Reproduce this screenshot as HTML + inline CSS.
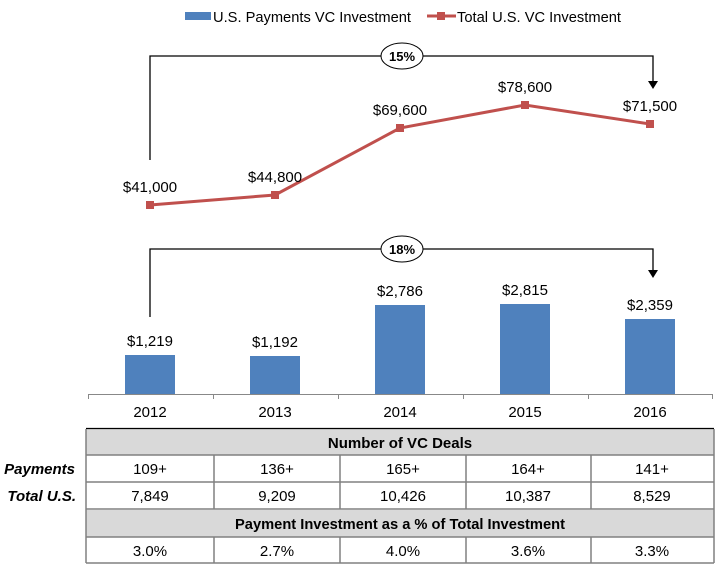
<!DOCTYPE html>
<html><head><meta charset="utf-8"><style>
body{margin:0;background:#fff}
svg{display:block;font-family:"Liberation Sans",Arial,sans-serif}
</style></head><body>
<svg width="720" height="569" viewBox="0 0 720 569" xmlns="http://www.w3.org/2000/svg">
<!-- legend -->
<rect x="185" y="12" width="26" height="8" fill="#4f81bd"/>
<text x="213" y="22" font-size="15" fill="#000" textLength="198" lengthAdjust="spacingAndGlyphs">U.S. Payments VC Investment</text>
<line x1="427" y1="16" x2="456" y2="16" stroke="#c0504d" stroke-width="3"/>
<rect x="437" y="12" width="8" height="8" fill="#c0504d"/>
<text x="457" y="22" font-size="15" fill="#000" textLength="164" lengthAdjust="spacingAndGlyphs">Total U.S. VC Investment</text>
<!-- bracket 15% -->
<polyline points="150,160 150,56 653,56 653,82" fill="none" stroke="#000" stroke-width="1.3"/>
<polygon points="648,81 658,81 653,89" fill="#000"/>
<ellipse cx="402" cy="56" rx="21" ry="13" fill="#fff" stroke="#000" stroke-width="1"/>
<text x="402" y="61" font-size="13" font-weight="bold" text-anchor="middle">15%</text>
<!-- line -->
<polyline points="150,205 275,195 400,128 525,105 650,124" fill="none" stroke="#c0504d" stroke-width="3"/>
<g fill="#c0504d">
<rect x="146" y="201" width="8" height="8"/><rect x="271" y="191" width="8" height="8"/>
<rect x="396" y="124" width="8" height="8"/><rect x="521" y="101" width="8" height="8"/>
<rect x="646" y="120" width="8" height="8"/></g>
<g font-size="15" text-anchor="middle">
<text x="150" y="192">$41,000</text><text x="275" y="182">$44,800</text>
<text x="400" y="115">$69,600</text><text x="525" y="92">$78,600</text>
<text x="650" y="111">$71,500</text></g>
<!-- bracket 18% -->
<polyline points="150,317 150,249 653,249 653,271" fill="none" stroke="#000" stroke-width="1.3"/>
<polygon points="648,270 658,270 653,278" fill="#000"/>
<ellipse cx="402" cy="249" rx="21" ry="13" fill="#fff" stroke="#000" stroke-width="1"/>
<text x="402" y="254" font-size="13" font-weight="bold" text-anchor="middle">18%</text>
<!-- bars -->
<g fill="#4f81bd">
<rect x="125" y="355" width="50" height="39"/><rect x="250" y="356" width="50" height="38"/>
<rect x="375" y="305" width="50" height="89"/><rect x="500" y="304" width="50" height="90"/>
<rect x="625" y="319" width="50" height="75"/></g>
<g font-size="15" text-anchor="middle">
<text x="150" y="346">$1,219</text><text x="275" y="347">$1,192</text>
<text x="400" y="296">$2,786</text><text x="525" y="295">$2,815</text>
<text x="650" y="310">$2,359</text></g>
<!-- axis -->
<g stroke="#888" stroke-width="1">
<line x1="88" y1="394.5" x2="713" y2="394.5"/>
<line x1="88.5" y1="394" x2="88.5" y2="399"/><line x1="213.5" y1="394" x2="213.5" y2="399"/>
<line x1="338.5" y1="394" x2="338.5" y2="399"/><line x1="463.5" y1="394" x2="463.5" y2="399"/>
<line x1="588.5" y1="394" x2="588.5" y2="399"/><line x1="712.5" y1="394" x2="712.5" y2="399"/></g>
<g font-size="15" text-anchor="middle">
<text x="150" y="417">2012</text><text x="275" y="417">2013</text><text x="400" y="417">2014</text>
<text x="525" y="417">2015</text><text x="650" y="417">2016</text></g>
<!-- table -->
<rect x="86" y="429" width="628" height="26" fill="#d9d9d9"/>
<rect x="86" y="510" width="628" height="27" fill="#d9d9d9"/>
<line x1="86" y1="428.5" x2="714" y2="428.5" stroke="#000" stroke-width="1.2"/>
<g stroke="#808080" stroke-width="1.5" fill="none">
<line x1="86" y1="455" x2="714" y2="455"/><line x1="86" y1="482" x2="714" y2="482"/>
<line x1="86" y1="509" x2="714" y2="509"/><line x1="86" y1="537" x2="714" y2="537"/>
<line x1="86" y1="563" x2="714" y2="563"/>
<line x1="86" y1="429" x2="86" y2="563"/><line x1="714" y1="429" x2="714" y2="563"/>
<line x1="214" y1="455" x2="214" y2="509"/><line x1="340" y1="455" x2="340" y2="509"/>
<line x1="466" y1="455" x2="466" y2="509"/><line x1="591" y1="455" x2="591" y2="509"/>
<line x1="214" y1="537" x2="214" y2="563"/><line x1="340" y1="537" x2="340" y2="563"/>
<line x1="466" y1="537" x2="466" y2="563"/><line x1="591" y1="537" x2="591" y2="563"/>
</g>
<g font-size="15" text-anchor="middle">
<text x="400" y="448" font-weight="bold">Number of VC Deals</text>
<text x="150" y="474">109+</text><text x="277" y="474">136+</text><text x="403" y="474">165+</text>
<text x="528" y="474">164+</text><text x="652" y="474">141+</text>
<text x="150" y="501">7,849</text><text x="277" y="501">9,209</text><text x="403" y="501">10,426</text>
<text x="528" y="501">10,387</text><text x="652" y="501">8,529</text>
<text x="400" y="529" font-weight="bold" textLength="330" lengthAdjust="spacingAndGlyphs">Payment Investment as a % of Total Investment</text>
<text x="150" y="556">3.0%</text><text x="277" y="556">2.7%</text><text x="403" y="556">4.0%</text>
<text x="528" y="556">3.6%</text><text x="652" y="556">3.3%</text>
</g>
<g font-size="15" font-weight="bold" font-style="italic" text-anchor="end">
<text x="75" y="474">Payments</text><text x="76" y="501">Total U.S.</text></g>
</svg>
</body></html>
